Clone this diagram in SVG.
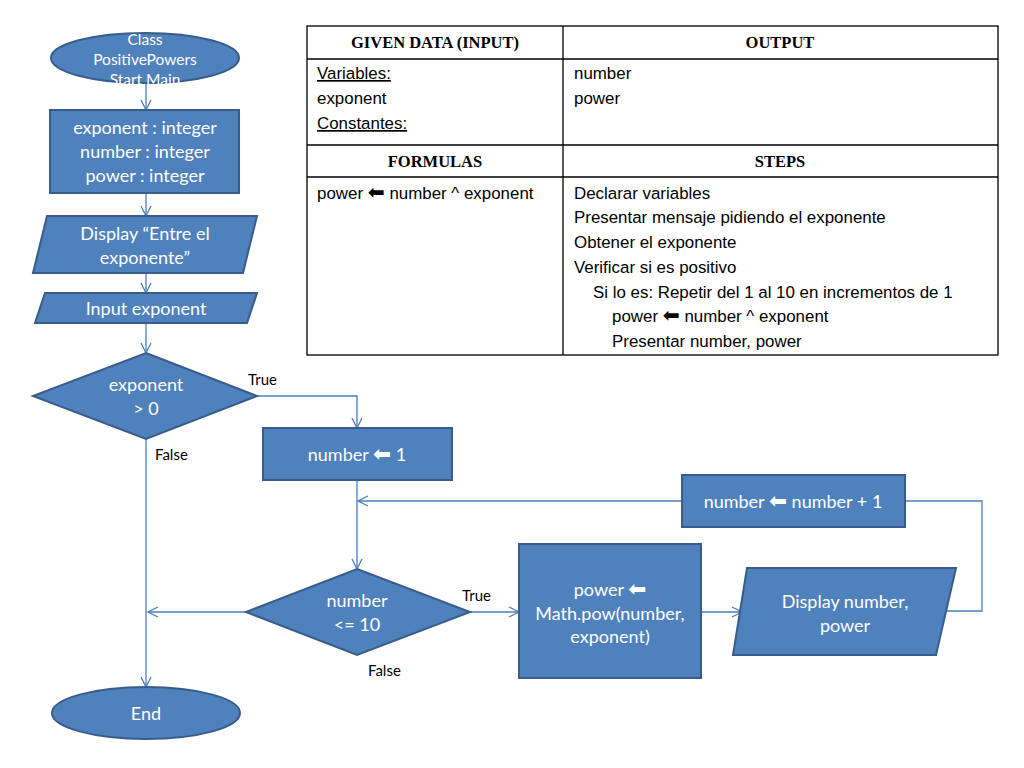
<svg xmlns="http://www.w3.org/2000/svg" width="1024" height="768" viewBox="0 0 1024 768">
<style>
.shape{fill:#4F81BD;stroke:#385D8A;stroke-width:2}
.t{font-family:Lato,"Open Sans","Liberation Sans",sans-serif;font-size:18px;fill:#fff;text-anchor:middle}
.ts{font-size:15.5px}
.lbl{font-family:Lato,"Liberation Sans",sans-serif;font-size:15px;fill:#000}
.conn{fill:none;stroke:#4A7EBB;stroke-width:1.3}
.grid{fill:none;stroke:#000;stroke-width:1.3}
.hd{font-family:"Liberation Serif",serif;font-weight:bold;font-size:16.5px;text-anchor:middle;fill:#000}
.tb{font-family:"Liberation Sans",Arial,sans-serif;font-size:16.9px;fill:#000}
.arr{font-family:"DejaVu Sans",sans-serif;font-size:1.2em}
</style>
<defs>
<marker id="ah" viewBox="0 0 12 12" refX="11" refY="6" markerWidth="12" markerHeight="12" markerUnits="userSpaceOnUse" orient="auto">
<path d="M1,1 L11,6 L1,11" fill="none" stroke="#4A7EBB" stroke-width="1.3"/>
</marker>
</defs>

<g id="table">
<rect class="grid" x="307" y="26" width="691" height="329"/>
<line class="grid" x1="563" y1="26" x2="563" y2="355"/>
<line class="grid" x1="307" y1="59" x2="998" y2="59"/>
<line class="grid" x1="307" y1="145" x2="998" y2="145"/>
<line class="grid" x1="307" y1="177" x2="998" y2="177"/>
<text class="hd" x="435" y="48">GIVEN DATA (INPUT)</text>
<text class="hd" x="780" y="48">OUTPUT</text>
<text class="hd" x="435" y="167">FORMULAS</text>
<text class="hd" x="780" y="167">STEPS</text>
<text class="tb" x="317" y="79" text-decoration="underline">Variables:</text>
<text class="tb" x="317" y="104">exponent</text>
<text class="tb" x="317" y="129" text-decoration="underline">Constantes:</text>
<text class="tb" x="574" y="79">number</text>
<text class="tb" x="574" y="104">power</text>
<text class="tb" x="317" y="199">power <tspan class="arr">⬅</tspan> number ^ exponent</text>
<text class="tb" x="574" y="199">Declarar variables</text>
<text class="tb" x="574" y="223">Presentar mensaje pidiendo el exponente</text>
<text class="tb" x="574" y="248">Obtener el exponente</text>
<text class="tb" x="574" y="273">Verificar si es positivo</text>
<text class="tb" x="593" y="298">Si lo es: Repetir del 1 al 10 en incrementos de 1</text>
<text class="tb" x="612" y="322">power <tspan class="arr">⬅</tspan> number ^ exponent</text>
<text class="tb" x="612" y="347">Presentar number, power</text>
</g>

<g id="connectors">
<line class="conn" x1="146" y1="83" x2="146" y2="110" marker-end="url(#ah)"/>
<line class="conn" x1="146" y1="193" x2="146" y2="216" marker-end="url(#ah)"/>
<line class="conn" x1="146" y1="273" x2="146" y2="293" marker-end="url(#ah)"/>
<line class="conn" x1="146" y1="323" x2="146" y2="353" marker-end="url(#ah)"/>
<polyline class="conn" points="257,396 357,396 357,428" marker-end="url(#ah)"/>
<line class="conn" x1="357" y1="480" x2="357" y2="569" marker-end="url(#ah)"/>
<line class="conn" x1="146" y1="439" x2="146" y2="687" marker-end="url(#ah)"/>
<line class="conn" x1="246" y1="612" x2="148" y2="612" marker-end="url(#ah)"/>
<line class="conn" x1="470" y1="612" x2="519" y2="612" marker-end="url(#ah)"/>
<line class="conn" x1="701" y1="612" x2="742" y2="612" marker-end="url(#ah)"/>
<polyline class="conn" points="946,611 982,611 982,501 905,501"/>
<line class="conn" x1="682" y1="501" x2="358" y2="501" marker-end="url(#ah)"/>
<text class="lbl" x="248" y="385">True</text>
<text class="lbl" x="155" y="460">False</text>
<text class="lbl" x="462" y="601">True</text>
<text class="lbl" x="368" y="676">False</text>
</g>

<g id="start">
<ellipse class="shape" cx="145" cy="58" rx="94" ry="25"/>
<text class="t ts" x="145" y="45">Class</text>
<text class="t ts" x="145" y="65">PositivePowers</text>
<text class="t ts" x="145" y="85">Start Main</text>
</g>

<g id="declare">
<rect class="shape" x="50" y="110" width="189" height="83"/>
<text class="t" x="145" y="134">exponent : integer</text>
<text class="t" x="145" y="158">number : integer</text>
<text class="t" x="145" y="182">power : integer</text>
</g>

<g id="display-prompt">
<polygon class="shape" points="47,216 257,216 243,273 33,273"/>
<text class="t" x="145" y="240">Display “Entre el</text>
<text class="t" x="145" y="264">exponente”</text>
</g>

<g id="input">
<polygon class="shape" points="45,293 257,293 247,323 35,323"/>
<text class="t" x="146" y="315">Input exponent</text>
</g>

<g id="decision1">
<polygon class="shape" points="146,353 257,396 146,439 33,396"/>
<text class="t" x="146" y="391">exponent</text>
<text class="t" x="146" y="415">&gt; 0</text>
</g>

<g id="init">
<rect class="shape" x="263" y="428" width="189" height="52"/>
<text class="t" x="357" y="461">number <tspan class="arr">⬅</tspan> 1</text>
</g>

<g id="decision2">
<polygon class="shape" points="357,569 470,612 357,655 246,612"/>
<text class="t" x="357" y="607">number</text>
<text class="t" x="357" y="631">&lt;= 10</text>
</g>

<g id="calc">
<rect class="shape" x="519" y="544" width="182" height="134"/>
<text class="t" x="610" y="596">power <tspan class="arr">⬅</tspan></text>
<text class="t" x="610" y="620">Math.pow(number,</text>
<text class="t" x="610" y="643">exponent)</text>
</g>

<g id="display-result">
<polygon class="shape" points="747,568 956,568 936,655 733,655"/>
<text class="t" x="845" y="608">Display number,</text>
<text class="t" x="845" y="632">power</text>
</g>

<g id="increment">
<rect class="shape" x="682" y="475" width="223" height="52"/>
<text class="t" x="793" y="508">number <tspan class="arr">⬅</tspan> number + 1</text>
</g>

<g id="end">
<ellipse class="shape" cx="146" cy="713" rx="94" ry="26"/>
<text class="t" x="146" y="720">End</text>
</g>
</svg>
